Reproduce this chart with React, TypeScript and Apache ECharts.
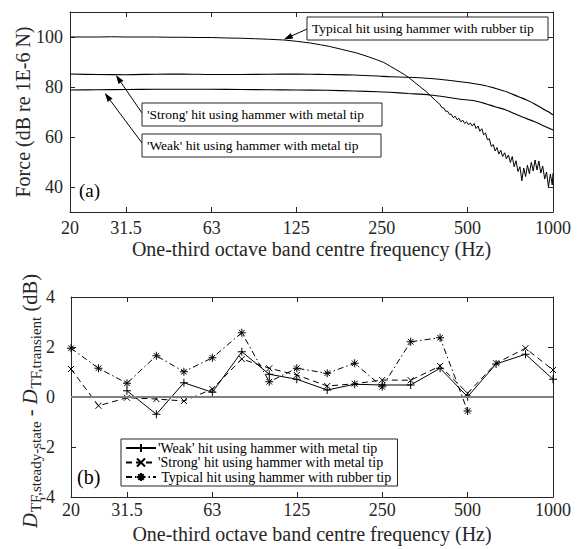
import React, { useEffect, useRef } from 'react';
import * as echarts from 'echarts';

const FONT = "'Liberation Serif', 'Times New Roman', 'DejaVu Serif', serif";
const INK = '#262626';

// ---------- Panel (a): force spectra ----------
const rubberFreq = [
  20, 22, 25, 28, 31.5, 36, 40, 45, 50, 56, 63, 71, 80, 90, 100, 113, 125, 140, 152, 164,
  180, 204, 220, 240, 254, 267, 280, 290, 300, 310, 325, 340, 355, 369, 385,
  400, 406, 413, 419, 426, 432, 439, 446, 453, 460, 467, 474, 482, 489, 497, 504, 512, 520,
  528, 536, 545, 553, 562, 570, 579, 588, 597, 607, 616, 626, 635, 645, 655, 665, 676, 686,
  697, 708, 719, 730, 741, 753, 765, 777, 789, 801, 813, 826, 839, 852, 865, 879, 892, 906,
  920, 935, 949, 964, 979, 994, 1000,
];
const rubberForce = [
  100.0, 100.0, 100.0, 100.1, 100.0, 100.0, 100.0, 99.9, 99.9, 99.8, 99.8, 99.6, 99.5, 99.3, 99.1, 98.8, 98.3, 97.6, 96.9, 96.2,
  95.1, 93.6, 92.4, 90.9, 89.8, 88.4, 87.0, 86.0, 85.0, 83.9, 82.0, 80.2, 78.5, 76.8, 74.7,
  73.1, 71.8, 71.6, 70.3, 70.3, 69.1, 69.1, 67.7, 68.3, 66.9, 67.5, 66.1, 66.7, 65.4, 66.1, 64.9, 65.6, 64.4,
  65.4, 63.4, 64.4, 62.3, 63.3, 60.9, 61.6, 58.9, 59.3, 56.2, 57.0, 54.4, 55.8, 53.2, 54.7, 52.2, 53.7, 51.3,
  52.8, 49.8, 52.2, 48.1, 50.5, 46.2, 48.1, 42.5, 47.6, 44.2, 48.7, 45.3, 49.9, 46.4, 50.8, 46.8, 50.4, 45.6,
  48.4, 43.2, 46.0, 40.0, 45.2, 40.8, 45.5,
];
const strongFreq = [20, 25, 31.5, 40, 50, 63, 80, 100, 125, 160, 200, 242, 267, 310, 370, 420, 472, 530, 580, 625, 690, 757, 808, 862, 920, 960, 1000];
const strongForce = [85.2, 85.0, 84.9, 85.1, 85.2, 85.0, 85.0, 85.1, 85.2, 85.0, 84.8, 84.4, 84.1, 83.9, 83.4, 82.8, 82.1, 81.3, 80.5, 79.5, 78.0, 76.1, 74.8, 73.2, 71.3, 70.2, 68.8];
const weakFreq = [20, 25, 31.5, 40, 50, 63, 80, 100, 125, 160, 200, 242, 267, 310, 369, 420, 472, 524, 580, 625, 680, 726, 780, 862, 930, 1000];
const weakForce = [78.8, 78.9, 79.0, 79.1, 79.1, 79.1, 79.0, 78.9, 78.8, 78.7, 78.4, 78.1, 77.9, 77.4, 76.8, 76.0, 75.1, 74.6, 73.3, 72.1, 70.9, 69.5, 68.0, 66.1, 64.4, 62.8];

const forceTicks = [40, 60, 80, 100];
const freqTickLabels = [20, 31.5, 63, 125, 250, 500, 1000];
const freqInnerTicks = [31.5, 63, 125, 250, 500];

const annotTexts = [
  'Typical hit using hammer with rubber tip',
  "'Strong' hit using hammer with metal tip",
  "'Weak' hit using hammer with metal tip",
];
const annotTipFreq = [113, 29, 26.5];
const annotTipForce = [99.0, 84.8, 77.6];

// ---------- Panel (b): difference per one-third octave band ----------
const bandFreq = [20, 25, 31.5, 40, 50, 63, 80, 100, 125, 160, 200, 250, 315, 400, 500, 630, 800, 1000];
const weakDiff = [null, null, 0.25, -0.69, 0.57, 0.19, 1.81, 0.91, 0.71, 0.28, 0.51, 0.48, 0.48, 1.15, 0.01, 1.32, 1.71, 0.71];
const strongDiff = [1.12, -0.35, -0.03, -0.08, -0.16, 0.32, 1.52, 1.15, 0.88, 0.44, 0.53, 0.68, 0.67, 1.24, 0.15, 1.35, 1.95, 1.08];
const rubberDiff = [1.95, 1.15, 0.55, 1.65, 1.01, 1.57, 2.57, 0.61, 1.15, 0.95, 1.35, 0.41, 2.21, 2.37, -0.56, null, null, null];
const legendNames = [
  "'Weak' hit using hammer with metal tip",
  "'Strong' hit using hammer with metal tip",
  ' Typical hit using hammer with rubber tip',
];
// y-axis title of panel (b): [text, is subscript, is italic]
const diffTitleParts: [string, boolean, boolean][] = [
  ['D', false, true],
  ['TF,steady-state', true, false],
  [' - ', false, false],
  ['D', false, true],
  ['TF,transient', true, false],
  [' (dB)', false, false],
];

const pairs = (xs: number[], ys: (number | null)[]) =>
  xs.map((x, i) => [x, ys[i]] as [number, number | null]).filter((p) => p[1] !== null);

const fmtFreq = (v: number) => String(Math.round(v * 10) / 10);

// layout (pixels)
const BOX = [
  { x: 307, y: 17, w: 241, h: 23 },
  { x: 142, y: 103, w: 240, h: 23 },
  { x: 142, y: 134, w: 239, h: 23 },
];
const TAILS = [
  [307, 29],
  [142, 113],
  [142, 143],
];

const PLUS = 'path://M0,5L10,5M5,0L5,10';
const CROSS = 'path://M0,0L10,10M10,0L0,10';
const STAR = 'path://M5,0L5,10M0,5L10,5M1.5,1.5L8.5,8.5M8.5,1.5L1.5,8.5';

function logX(gridIndex: number, position: string, showLabel: boolean, margin: number, name: string, nameGap: number) {
  return {
    type: 'log',
    logBase: 10,
    gridIndex,
    position,
    min: 20,
    max: 1000,
    name,
    nameLocation: 'middle',
    nameGap,
    nameMoveOverlap: false,
    nameTextStyle: { fontFamily: FONT, fontSize: 20, color: INK },
    axisLine: { show: true, onZero: false, lineStyle: { color: INK, width: 1 } },
    axisTick: { show: true, inside: true, length: 5, customValues: freqInnerTicks, lineStyle: { color: INK, width: 1 } },
    axisLabel: {
      show: showLabel,
      margin,
      customValues: freqTickLabels,
      formatter: fmtFreq,
      fontFamily: FONT,
      fontSize: 18,
      color: INK,
    },
    splitLine: { show: false },
    minorTick: { show: false },
    minorSplitLine: { show: false },
  };
}

function arrow(tail: number[], tip: number[]) {
  const dx = tip[0] - tail[0];
  const dy = tip[1] - tail[1];
  const len = Math.hypot(dx, dy);
  const ux = dx / len;
  const uy = dy / len;
  const hl = 9;
  const hw = 3;
  const bx = tip[0] - ux * hl;
  const by = tip[1] - uy * hl;
  return [
    { type: 'line', shape: { x1: tail[0], y1: tail[1], x2: bx, y2: by }, style: { stroke: '#000', lineWidth: 1 } },
    {
      type: 'polygon',
      shape: { points: [[tip[0], tip[1]], [bx - uy * hw, by + ux * hw], [bx + uy * hw, by - ux * hw]] },
      style: { fill: '#000' },
    },
  ];
}

export default function App() {
  const ref = useRef<HTMLDivElement>(null);
  useEffect(() => {
    if (!ref.current) return;
    const chart = echarts.init(ref.current, null, { renderer: 'svg' });
    const lineBlack = { color: '#000', width: 1.2 };
    const option: any = {
      animation: false,
      backgroundColor: '#fff',
      grid: [
        { left: 70, right: 25, top: 12, height: 200 },
        { left: 71, right: 25, top: 297, height: 200 },
      ],
      xAxis: [
        logX(0, 'bottom', true, 7, 'One-third octave band centre frequency (Hz)', 27),
        logX(0, 'top', false, 7, '', 0),
        logX(1, 'bottom', true, 4, 'One-third octave band centre frequency (Hz)', 27),
        logX(1, 'top', false, 4, '', 0),
      ],
      yAxis: [
        {
          type: 'value', gridIndex: 0, position: 'left', min: 30, max: 110,
          name: 'Force (dB re 1E-6 N)', nameLocation: 'middle', nameGap: 37, nameRotate: 90, nameMoveOverlap: false,
          nameTextStyle: { fontFamily: FONT, fontSize: 20, color: INK },
          axisLine: { show: true, onZero: false, lineStyle: { color: INK, width: 1 } },
          axisTick: { show: true, inside: true, length: 5, customValues: forceTicks, lineStyle: { color: INK } },
          axisLabel: { margin: 7, customValues: forceTicks, fontFamily: FONT, fontSize: 18, color: INK },
          splitLine: { show: false },
        },
        {
          type: 'value', gridIndex: 0, position: 'right', min: 30, max: 110,
          axisLine: { show: true, onZero: false, lineStyle: { color: INK, width: 1 } },
          axisTick: { show: true, inside: true, length: 5, customValues: forceTicks, lineStyle: { color: INK } },
          axisLabel: { show: false },
          splitLine: { show: false },
        },
        {
          type: 'value', gridIndex: 1, position: 'left', min: -4, max: 4, interval: 2,
          axisLine: { show: true, onZero: false, lineStyle: { color: INK, width: 1 } },
          axisTick: { show: true, inside: true, length: 5, lineStyle: { color: INK } },
          axisLabel: { margin: 16, fontFamily: FONT, fontSize: 18, color: INK },
          splitLine: { show: false },
        },
        {
          type: 'value', gridIndex: 1, position: 'right', min: -4, max: 4, interval: 2,
          axisLine: { show: true, onZero: false, lineStyle: { color: INK, width: 1 } },
          axisTick: { show: true, inside: true, length: 5, lineStyle: { color: INK } },
          axisLabel: { show: false },
          splitLine: { show: false },
        },
      ],
      legend: {
        data: legendNames,
        orient: 'vertical',
        left: 121,
        top: 439,
        itemWidth: 30,
        itemHeight: 10,
        itemGap: 0.5,
        padding: [2, 6, 2, 4],
        borderColor: INK,
        borderWidth: 1,
        borderRadius: 0,
        backgroundColor: '#fff',
        selectedMode: false,
        textStyle: { fontFamily: FONT, fontSize: 14, lineHeight: 14, color: '#000', padding: [0, 0, 0, -3] },
      },
      series: [
        {
          name: 'Force, rubber tip', type: 'line', xAxisIndex: 0, yAxisIndex: 0, showSymbol: false, symbol: 'none',
          data: pairs(rubberFreq, rubberForce), lineStyle: { color: '#000', width: 1 }, silent: true,
        },
        {
          name: 'Force, strong metal tip', type: 'line', xAxisIndex: 0, yAxisIndex: 0, showSymbol: false, symbol: 'none',
          data: pairs(strongFreq, strongForce), lineStyle: lineBlack, silent: true, smooth: 0.3,
        },
        {
          name: 'Force, weak metal tip', type: 'line', xAxisIndex: 0, yAxisIndex: 0, showSymbol: false, symbol: 'none',
          data: pairs(weakFreq, weakForce), lineStyle: lineBlack, silent: true, smooth: 0.3,
        },
        {
          name: legendNames[0], type: 'line', xAxisIndex: 2, yAxisIndex: 2,
          data: pairs(bandFreq, weakDiff), symbol: PLUS, symbolSize: 8,
          itemStyle: { color: '#000', borderColor: '#000', borderWidth: 1 },
          lineStyle: { color: '#000', width: 1, type: 'solid' },
          markLine: {
            silent: true, symbol: ['none', 'none'], label: { show: false },
            lineStyle: { color: '#808080', width: 2, type: 'solid' },
            data: [{ yAxis: 0 }],
          },
        },
        {
          name: legendNames[1], type: 'line', xAxisIndex: 2, yAxisIndex: 2,
          data: pairs(bandFreq, strongDiff), symbol: CROSS, symbolSize: 6,
          itemStyle: { color: '#000', borderColor: '#000', borderWidth: 1 },
          lineStyle: { color: '#000', width: 1, type: [6, 4] },
        },
        {
          name: legendNames[2], type: 'line', xAxisIndex: 2, yAxisIndex: 2,
          data: pairs(bandFreq, rubberDiff), symbol: STAR, symbolSize: 8,
          itemStyle: { color: '#000', borderColor: '#000', borderWidth: 1 },
          lineStyle: { color: '#000', width: 1, type: [6, 3, 1.5, 3] },
        },
      ],
    };
    chart.setOption(option);

    const graphics: any[] = [];
    annotTexts.forEach((t, i) => {
      const tip = chart.convertToPixel({ xAxisIndex: 0, yAxisIndex: 0 }, [annotTipFreq[i], annotTipForce[i]]) as number[];
      graphics.push(...arrow(TAILS[i], tip));
      const b = BOX[i];
      graphics.push({
        type: 'rect',
        shape: { x: b.x, y: b.y, width: b.w, height: b.h },
        style: { fill: '#fff', stroke: INK, lineWidth: 1 },
      });
      graphics.push({
        type: 'text',
        x: b.x + 5,
        y: b.y + b.h / 2,
        style: { text: t, fontFamily: FONT, fontSize: 13.5, fill: '#000', verticalAlign: 'middle', align: 'left' },
      });
    });
    graphics.push({
      type: 'text', x: 79, y: 190,
      style: { text: '(a)', fontFamily: FONT, fontSize: 19, fill: '#000', verticalAlign: 'middle' },
    });
    graphics.push({
      type: 'text', x: 77, y: 477,
      style: { text: '(b)', fontFamily: FONT, fontSize: 20, fill: '#000', verticalAlign: 'middle' },
    });

    // rotated y-axis title of panel (b), with subscripts
    const ctx = document.createElement('canvas').getContext('2d')!;
    const MAIN = 20.5;
    const SUB = 15;
    let cx = 0;
    const kids: any[] = [];
    diffTitleParts.forEach(([t, sub, italic]) => {
      const size = sub ? SUB : MAIN;
      ctx.font = `${italic ? 'italic ' : ''}${size}px ${FONT}`;
      const w = ctx.measureText(t).width;
      kids.push({
        type: 'text',
        x: cx,
        y: sub ? 6 : 0,
        style: {
          text: t, fontFamily: FONT, fontSize: size, fontStyle: italic ? 'italic' : 'normal',
          fill: INK, align: 'left', verticalAlign: 'middle',
        },
      });
      cx += w + (italic ? 1 : 0);
    });
    graphics.push({
      type: 'group',
      x: 30,
      y: 401 + cx / 2,
      rotation: Math.PI / 2,
      children: kids,
    });

    chart.setOption({ graphic: graphics });

    return () => chart.dispose();
  }, []);
  return <div ref={ref} style={{ position: 'absolute', left: 0, top: 0, width: 578, height: 549 }} />;
}
